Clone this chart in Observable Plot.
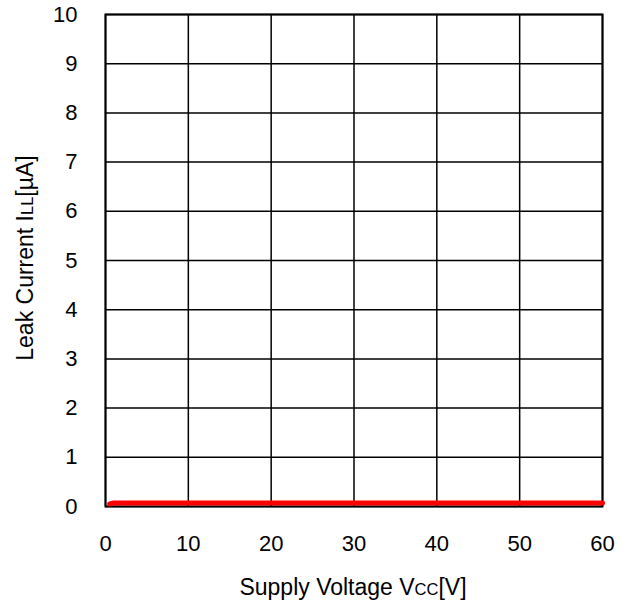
<!DOCTYPE html>
<html><head><meta charset="utf-8">
<script src="https://cdn.jsdelivr.net/npm/d3@7"></script>
<script src="https://cdn.jsdelivr.net/npm/@observablehq/plot@0.6"></script>
<style>body{margin:0;background:#fff;} svg{display:block;}</style>
</head><body><div id="chart"></div>
<script>
const voltage = [0.5, 1, 5, 10, 20, 30, 40, 50, 60];
const leak = [0.05, 0.07, 0.07, 0.07, 0.07, 0.07, 0.07, 0.07, 0.07];
const xTicks = [0, 10, 20, 30, 40, 50, 60];
const yTicks = [0, 1, 2, 3, 4, 5, 6, 7, 8, 9, 10];
const data = voltage.map((v, i) => ({v, i: leak[i]}));
const FONT = "'Liberation Sans', Arial, sans-serif";

const chart = Plot.plot({
  width: 627, height: 608,
  marginLeft: 105, marginRight: 25, marginTop: 14, marginBottom: 102,
  style: {fontFamily: FONT, fontSize: "22px", color: "#000", background: "#fff"},
  x: {domain: [0, 60], label: null},
  y: {domain: [0, 10], label: null},
  marks: [
    Plot.gridX(xTicks, {stroke: "#000", strokeOpacity: 1, strokeWidth: 1.5}),
    Plot.gridY(yTicks, {stroke: "#000", strokeOpacity: 1, strokeWidth: 1.5}),
    Plot.frame({stroke: "#000", strokeWidth: 2}),
    Plot.axisX(xTicks, {tickSize: 0, tickPadding: 29, fontSize: 22, label: null}),
    Plot.axisY(yTicks, {tickSize: 0, tickPadding: 28, fontSize: 22, label: null}),
    Plot.line(data, {x: "v", y: "i", stroke: "#ff0000", strokeWidth: 5})
  ]
});
const svg = d3.select(chart);
const xt = svg.append("text").attr("x", 353).attr("y", 595).attr("text-anchor", "middle")
  .attr("font-size", 23).attr("fill", "#000").attr("font-family", FONT);
xt.append("tspan").text("Supply Voltage V");
xt.append("tspan").attr("font-size", 16.5).text("CC");
xt.append("tspan").text("[V]");
const yt = svg.append("text").attr("transform", "translate(33,258) rotate(-90)").attr("text-anchor", "middle")
  .attr("font-size", 23).attr("fill", "#000").attr("font-family", FONT);
yt.append("tspan").text("Leak Current I");
yt.append("tspan").attr("font-size", 16.5).text("LL");
yt.append("tspan").text("[µA]");
document.getElementById("chart").append(chart);
</script></body></html>
